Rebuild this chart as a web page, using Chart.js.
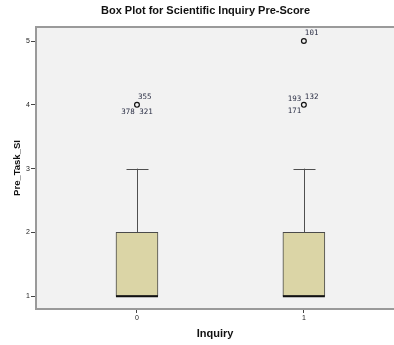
<!DOCTYPE html>
<html>
<head>
<meta charset="utf-8">
<script src="https://cdn.jsdelivr.net/npm/chart.js@4/dist/chart.umd.min.js"></script>
<style>
  html, body { margin: 0; padding: 0; background: #ffffff; }
  #wrap { width: 394px; height: 345px; }
</style>
</head>
<body>
<div id="wrap"><canvas id="c" width="394" height="345"></canvas></div>
<script>
// Groups on the x axis
const categories = ['0', '1'];

// Five-number summary per group
const whiskerLow  = [1, 1];
const q1          = [1, 1];
const median      = [1, 1];
const q3          = [2, 2];
const whiskerHigh = [3, 3];

// Outlying cases: group index, value, and case ids shown next to the marker
const outlierGroup = [0, 1, 1];
const outlierValue = [4, 4, 5];
const outlierIdsNE = ['355', '132', '101'];
const outlierIdsNW = ['', '193', ''];
const outlierIdsS  = ['378 321', '', ''];
const outlierIdsSW = ['', '171', ''];

// Y axis tick values
const yTicks = [1, 2, 3, 4, 5];

const chartTitle = 'Box Plot for Scientific Inquiry Pre-Score';
const xTitle = 'Inquiry';
const yTitle = 'Pre_Task_SI';

const BOX_FILL = '#dbd5a6';
const BOX_EDGE = '#4a4a4a';
const AXIS_GRAY = '#9a9a9a';

// Plot background
const plotBackground = {
  id: 'plotBackground',
  beforeDraw(chart) {
    const { ctx, chartArea: a } = chart;
    ctx.save();
    ctx.fillStyle = '#f2f2f2';
    ctx.fillRect(a.left, a.top, a.right - a.left, a.bottom - a.top);
    ctx.strokeStyle = AXIS_GRAY;
    ctx.lineWidth = 2;
    ctx.beginPath();
    ctx.moveTo(a.left, a.top);
    ctx.lineTo(a.right, a.top);
    ctx.stroke();
    ctx.restore();
  }
};

// Whiskers, caps and median lines
const boxParts = {
  id: 'boxParts',
  beforeDatasetsDraw(chart) {
    const { ctx } = chart;
    const xs = chart.scales.x, ys = chart.scales.y;
    ctx.save();
    ctx.strokeStyle = '#505050';
    ctx.lineWidth = 1;
    categories.forEach((c, i) => {
      const x = Math.round(xs.getPixelForValue(i)) + 0.5;
      const capHalf = 11;
      [[q3[i], whiskerHigh[i]], [whiskerLow[i], q1[i]]].forEach(([a, b]) => {
        if (a === b) return;
        const ya = ys.getPixelForValue(a), yb = ys.getPixelForValue(b);
        ctx.beginPath();
        ctx.moveTo(x, ya);
        ctx.lineTo(x, yb);
        ctx.stroke();
      });
      [whiskerHigh[i], whiskerLow[i]].forEach((v, k) => {
        if ((k === 0 && v === q3[i]) || (k === 1 && v === q1[i])) return;
        const y = Math.round(ys.getPixelForValue(v)) + 0.5;
        ctx.beginPath();
        ctx.moveTo(x - capHalf, y);
        ctx.lineTo(x + capHalf, y);
        ctx.stroke();
      });
    });
    ctx.restore();
  },
  afterDatasetsDraw(chart) {
    const { ctx } = chart;
    const xs = chart.scales.x, ys = chart.scales.y;
    ctx.save();
    ctx.strokeStyle = '#111111';
    ctx.lineWidth = 2;
    categories.forEach((c, i) => {
      const x = xs.getPixelForValue(i);
      const y = ys.getPixelForValue(median[i]);
      ctx.beginPath();
      ctx.moveTo(x - 21, y);
      ctx.lineTo(x + 21, y);
      ctx.stroke();
    });
    // case id labels around outliers
    ctx.font = '7.5px "DejaVu Sans Mono"';
    ctx.fillStyle = '#2b2f45';
    ctx.textBaseline = 'middle';
    outlierValue.forEach((v, k) => {
      const px = xs.getPixelForValue(outlierGroup[k]);
      const py = ys.getPixelForValue(v);
      if (outlierIdsNE[k]) { ctx.textAlign = 'left';  ctx.fillText(outlierIdsNE[k], px + 1, py - 7.5); }
      if (outlierIdsNW[k]) { ctx.textAlign = 'right'; ctx.fillText(outlierIdsNW[k], px - 2.5, py - 5.5); }
      if (outlierIdsS[k])  { ctx.textAlign = 'center'; ctx.fillText(outlierIdsS[k], px, py + 7); }
      if (outlierIdsSW[k]) { ctx.textAlign = 'right'; ctx.fillText(outlierIdsSW[k], px - 2.5, py + 6.5); }
    });
    ctx.restore();
  }
};

// Chart heading
const heading = {
  id: 'heading',
  afterDraw(chart) {
    const { ctx } = chart;
    ctx.save();
    ctx.font = 'bold 11px "Liberation Sans"';
    ctx.fillStyle = '#111111';
    ctx.textAlign = 'center';
    ctx.textBaseline = 'middle';
    ctx.fillText(chartTitle, 205.5, 10.5);
    ctx.restore();
  }
};

new Chart(document.getElementById('c'), {
  data: {
    datasets: [
      {
        type: 'bar',
        data: categories.map((c, i) => ({ x: i, y: [q1[i], q3[i]] })),
        backgroundColor: BOX_FILL,
        borderColor: BOX_EDGE,
        borderWidth: 1,
        borderSkipped: false,
        barThickness: 42,
        order: 2
      },
      {
        type: 'scatter',
        data: outlierValue.map((v, k) => ({ x: outlierGroup[k], y: v })),
        pointStyle: 'circle',
        pointRadius: 2.4,
        pointBorderWidth: 1.2,
        pointBorderColor: '#111111',
        pointBackgroundColor: '#f2f2f2',
        order: 1
      }
    ]
  },
  options: {
    responsive: false,
    animation: false,
    devicePixelRatio: 1,
    layout: { autoPadding: false, padding: { top: 27, left: 0, right: 0, bottom: 0 } },
    plugins: {
      legend: { display: false },
      tooltip: { enabled: false },
      title: { display: false }
    },
    scales: {
      x: {
        type: 'linear',
        min: -0.605,
        max: 1.54,
        offset: false,
        afterFit(s) { s.height = 36; s.paddingLeft = 0; s.paddingRight = 0; },
        afterBuildTicks(s) { s.ticks = categories.map((c, i) => ({ value: i })); },
        ticks: {
          callback: (v) => categories[v],
          font: { family: 'Liberation Sans', size: 7 },
          color: '#222222',
          padding: 1,
          maxRotation: 0,
          autoSkip: false
        },
        grid: { offset: false, drawOnChartArea: false, drawTicks: true, tickLength: 4, color: '#444444', lineWidth: 1 },
        border: { display: true, color: AXIS_GRAY, width: 2 },
        title: {
          display: true,
          text: xTitle,
          font: { family: 'Liberation Sans', size: 11, weight: 'bold' },
          color: '#111111',
          padding: { top: 0, bottom: 4 }
        }
      },
      y: {
        type: 'linear',
        min: 0.8,
        max: 5.22,
        afterFit(s) { s.width = 36; },
        afterBuildTicks(s) { s.ticks = yTicks.map(v => ({ value: v })); },
        ticks: {
          font: { family: 'Liberation Sans', size: 7 },
          color: '#222222',
          padding: 1
        },
        grid: { drawOnChartArea: false, drawTicks: true, tickLength: 5, color: '#444444', lineWidth: 1 },
        border: { display: true, color: AXIS_GRAY, width: 2 },
        title: {
          display: true,
          text: yTitle,
          font: { family: 'Liberation Sans', size: 9.5, weight: 'bold' },
          color: '#111111',
          padding: { top: 12, bottom: 0 }
        }
      }
    }
  },
  plugins: [plotBackground, boxParts, heading]
});
</script>
</body>
</html>
